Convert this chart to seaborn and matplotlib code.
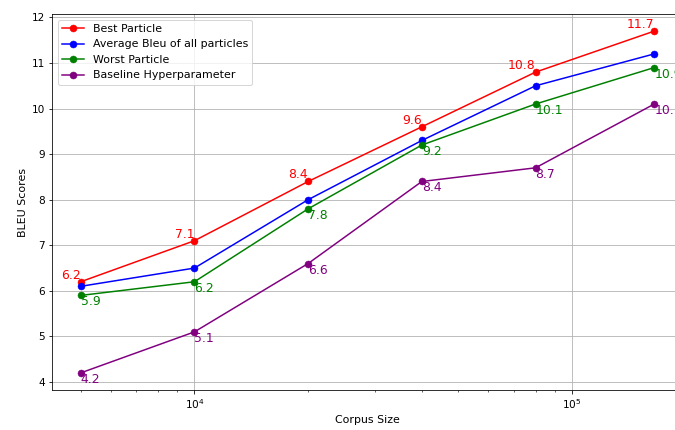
import matplotlib
matplotlib.use("Agg")
import matplotlib.pyplot as plt
import seaborn as sns
import pandas as pd

# Corpus sizes used in the experiments
corpus_size = [5000, 10000, 20000, 40000, 80000, 165000]

best_particle = [6.2, 7.1, 8.4, 9.6, 10.8, 11.7]
average_bleu = [6.1, 6.5, 8.0, 9.3, 10.5, 11.2]
worst_particle = [5.9, 6.2, 7.8, 9.2, 10.1, 10.9]
baseline = [4.2, 5.1, 6.6, 8.4, 8.7, 10.1]

series_names = ["Best Particle", "Average Bleu of all particles",
                "Worst Particle", "Baseline Hyperparameter"]
series_values = [best_particle, average_bleu, worst_particle, baseline]
series_colors = ["red", "blue", "green", "purple"]

fig = plt.figure(figsize=(675 / 72, 430 / 72), dpi=72)
ax = fig.add_axes([52 / 675, 40 / 430, 631 / 675, 376 / 430])
ax.set_xscale("log")

for name, vals, col in zip(series_names, series_values, series_colors):
    df = pd.DataFrame({"size": corpus_size, "bleu": vals})
    sns.lineplot(data=df, x="size", y="bleu", ax=ax, color=col, marker="o",
                 markersize=7, markeredgecolor=col, markeredgewidth=0.5,
                 linewidth=1.5, label=name)

# value labels: best above-left, worst and baseline below-right
for x, y in zip(corpus_size, best_particle):
    ax.text(x, y, f"{y}", color="red", fontsize=12.4, ha="right", va="bottom")
for x, y in zip(corpus_size, worst_particle):
    ax.text(x, y, f"{y}", color="green", fontsize=12.4, ha="left", va="top")
for x, y in zip(corpus_size, baseline):
    ax.text(x, y, f"{y}", color="purple", fontsize=12.4, ha="left", va="top")

ax.grid(True, color="#b0b0b0", linewidth=0.8)
ax.set_xlabel("Corpus Size", fontsize=11)
ax.set_ylabel("BLEU Scores", fontsize=11)
ax.tick_params(labelsize=10.5)
ax.legend(loc="upper left", fontsize=11)

fig.savefig("out.png", dpi=72)
